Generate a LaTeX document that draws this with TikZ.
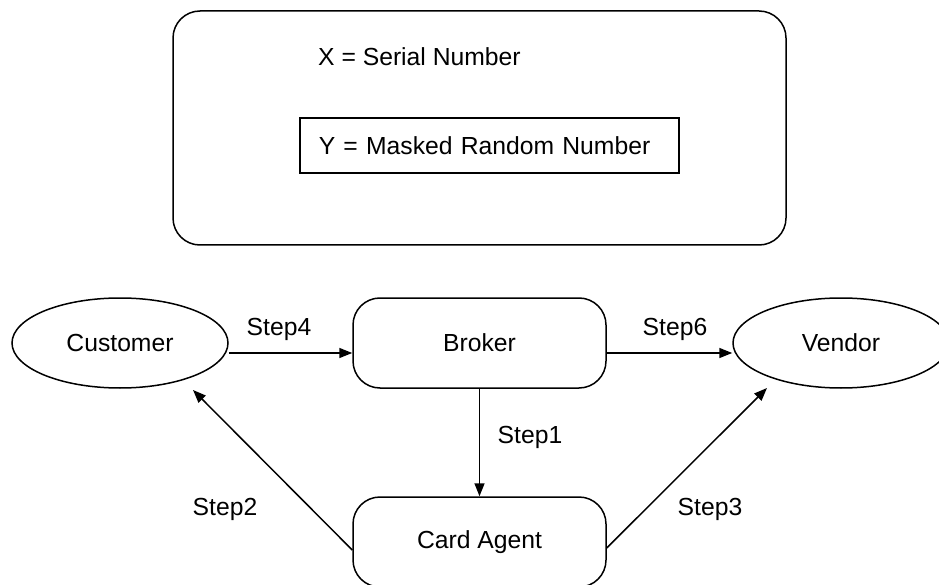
\documentclass[tikz,border=0pt]{standalone}
\usepackage{fontspec}
\setmainfont{Liberation Sans}
\usetikzlibrary{arrows.meta,shapes.geometric}
\begin{document}
\begin{tikzpicture}[x=1pt,y=-1pt,
  every node/.style={font=\fontsize{24.7}{30}\selectfont},
  line/.style={line width=1.5pt},
  arr/.style={line, -{Triangle[length=13pt,width=10pt]}},
  roundbox/.style={line, draw, rounded corners=27pt, minimum width=253pt, minimum height=90pt, inner sep=0pt},
  oval/.style={line, draw, ellipse, minimum width=216pt, minimum height=90pt, inner sep=0pt},
  steplabel/.style={anchor=base, inner sep=0pt}
]
\useasboundingbox (0,0) rectangle (939,585);
\clip (0,0) rectangle (939,585);

% key panel
\node[line, draw, rounded corners=27pt, minimum width=613pt, minimum height=234pt, inner sep=0pt] (panel) at (479.5,128) {};
\node[anchor=base west, inner sep=0pt] (xkey) at (318,66) {X = Serial Number};
\node[line, draw, anchor=west, minimum width=379pt, minimum height=55pt,
      inner xsep=19pt, inner ysep=0pt, text width=341pt, align=left] (ykey) at (299,145.5) {Y = Masked Random Number};

% parties
\node[oval] (cust) at (120,343) {Customer};
\node[roundbox] (broker) at (479.5,343) {Broker};
\node[oval] (vend) at (841,343) {Vendor};
\node[roundbox] (agent) at (479.5,542) {Card Agent};

% free ends of the diagonal arrows
\coordinate (tip2) at (193,390);
\coordinate (tip3) at (767,388);

% flows
\draw[arr] ([yshift=-10pt]cust.east) -- ([yshift=-10pt]broker.west);
\draw[arr] ([yshift=-10pt]broker.east) -- ([yshift=-10pt]vend.west);
\draw[arr] (broker.south) -- (agent.north);
\draw[arr] ([yshift=-8pt]agent.west) -- (tip2);
\draw[arr] ([yshift=-6pt]agent.east) -- (tip3);

% step labels
\node[steplabel] (s4) at (279,335) {Step4};
\node[steplabel] (s6) at (675,335) {Step6};
\node[steplabel] (s1) at (530,443) {Step1};
\node[steplabel] (s2) at (225,515) {Step2};
\node[steplabel] (s3) at (710,515) {Step3};
\end{tikzpicture}
\end{document}
